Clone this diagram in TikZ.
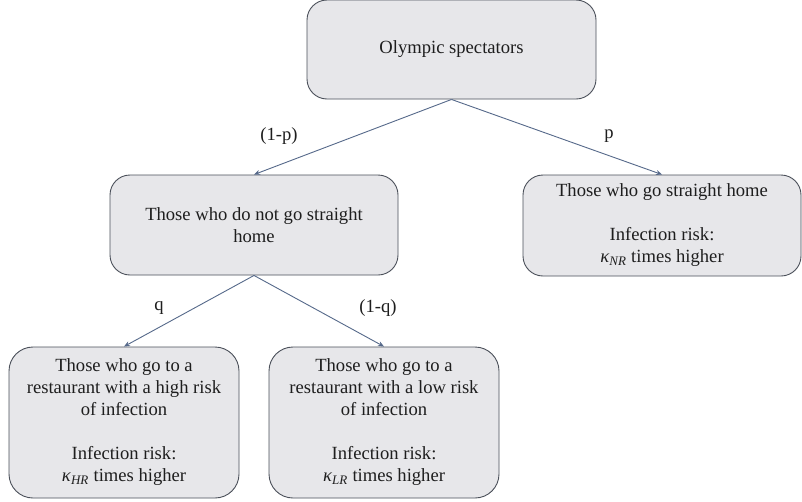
\documentclass[tikz,border=0pt]{standalone}
\usepackage{fontspec}
\setmainfont{Liberation Serif}
\usetikzlibrary{arrows.meta}
\definecolor{boxfill}{HTML}{E7E7EA}
\definecolor{boxline}{HTML}{4B505A}
\definecolor{arrowc}{HTML}{56698A}
\definecolor{txt}{HTML}{1E1E1E}
\newcommand{\kap}[1]{\textit{κ}\textsubscript{\textit{#1}}}
\begin{document}
\begin{tikzpicture}[x=1pt,y=-1pt,
  stagebox/.style={draw=boxline, fill=boxfill, line width=0.9pt, rounded corners=20pt,
    inner sep=0pt, align=center, text=txt,
    font=\fontsize{18.6}{22}\selectfont},
  conn/.style={draw=arrowc, line width=0.9pt, -{Stealth[length=6pt,width=5pt]}},
  problabel/.style={text=txt, inner sep=0pt, font=\fontsize{18.6}{22}\selectfont}]
\useasboundingbox (0,0) rectangle (802,501);
\fill[white] (0,0) rectangle (802,501);
\node[stagebox, minimum width=289pt, minimum height=99pt] (top) at (451.5,49.5) {Olympic spectators};
\node[stagebox, minimum width=288pt, minimum height=100pt] (midL) at (254,225) {Those who do not go straight\\home};
\node[stagebox, minimum width=278pt, minimum height=101pt] (right) at (662,225.5)
  {Those who go straight home\\[22pt]Infection risk:\\\kap{NR} times higher};
\node[stagebox, minimum width=230pt, minimum height=151pt, rounded corners=24pt] (botL) at (124,422.5)
  {Those who go to a\\restaurant with a high risk\\of infection\\[22pt]Infection risk:\\\kap{HR} times higher};
\node[stagebox, minimum width=230pt, minimum height=151pt, rounded corners=24pt] (botR) at (384,422.5)
  {Those who go to a\\restaurant with a low risk\\of infection\\[22pt]Infection risk:\\\kap{LR} times higher};
\draw[conn] (top.south) -- (midL.north);
\draw[conn] (top.south) -- (right.north);
\draw[conn] (midL.south) -- (botL.north);
\draw[conn] (midL.south) -- (botR.north);
\node[problabel] (lp1) at (279,136) {(1-p)};
\node[problabel] (lp2) at (609,136) {p};
\node[problabel] (lq1) at (159,308) {q};
\node[problabel] (lq2) at (378,308) {(1-q)};
\end{tikzpicture}
\end{document}
